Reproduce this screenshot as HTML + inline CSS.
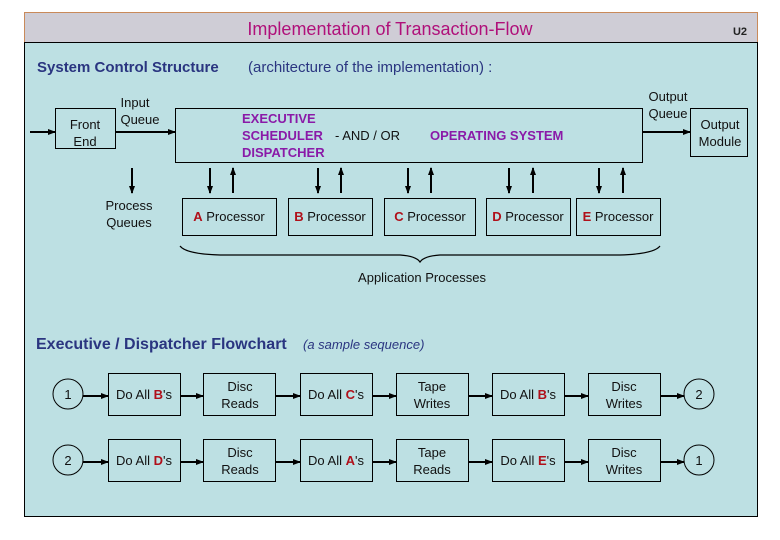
<!DOCTYPE html>
<html><head><meta charset="utf-8"><style>
html,body{margin:0;padding:0;background:#fff;width:780px;height:540px;overflow:hidden}
svg{display:block}
text{font-family:"Liberation Sans",sans-serif}
</style></head><body>
<svg width="780" height="540" viewBox="0 0 780 540" xmlns="http://www.w3.org/2000/svg">
<defs>
<marker id="ah" markerWidth="8" markerHeight="8" refX="7" refY="4" orient="auto" markerUnits="userSpaceOnUse">
<path d="M0,1 L8,4 L0,7 z" fill="#000"/></marker>
</defs>
<rect x="24.5" y="12.5" width="733" height="504" fill="#bde0e3" stroke="#000"/>
<rect x="24.5" y="12.5" width="733" height="30" fill="#cfcdd6" stroke="#c98a5a"/>
<line x1="24" y1="42.5" x2="758" y2="42.5" stroke="#000"/>
<text x="390" y="35" text-anchor="middle" font-size="18" fill="#b0107a">Implementation of Transaction-Flow</text>
<text x="740" y="35" text-anchor="middle" font-size="11" font-weight="bold" fill="#222">U2</text>
<text x="37" y="72" font-size="15" fill="#2a3580" font-weight="bold">System  Control Structure</text>
<text x="248" y="72" font-size="15" fill="#2a3580">(architecture of the implementation) :</text>

<g stroke="#000" fill="none" stroke-width="1">
<rect x="55.5" y="108.5" width="60" height="40"/>
<rect x="175.5" y="108.5" width="467" height="54"/>
<rect x="690.5" y="108.5" width="57" height="48"/>
<rect x="182.5" y="198.5" width="94" height="37"/>
<rect x="288.5" y="198.5" width="84" height="37"/>
<rect x="384.5" y="198.5" width="91" height="37"/>
<rect x="486.5" y="198.5" width="84" height="37"/>
<rect x="576.5" y="198.5" width="84" height="37"/>
</g>
<g stroke="#000" stroke-width="2" marker-end="url(#ah)">
<line x1="30" y1="132" x2="55" y2="132"/>
<line x1="115" y1="132" x2="175" y2="132"/>
<line x1="642" y1="132" x2="690" y2="132"/>
<line x1="132" y1="168" x2="132" y2="193"/>
<line x1="210" y1="168" x2="210" y2="193"/><line x1="233" y1="193" x2="233" y2="168"/>
<line x1="318" y1="168" x2="318" y2="193"/><line x1="341" y1="193" x2="341" y2="168"/>
<line x1="408" y1="168" x2="408" y2="193"/><line x1="431" y1="193" x2="431" y2="168"/>
<line x1="509" y1="168" x2="509" y2="193"/><line x1="533" y1="193" x2="533" y2="168"/>
<line x1="599" y1="168" x2="599" y2="193"/><line x1="623" y1="193" x2="623" y2="168"/>
</g>
<g font-size="13" fill="#111">
<text x="85" y="129" text-anchor="middle">Front</text><text x="85" y="146" text-anchor="middle">End</text>
<text x="135" y="107" text-anchor="middle">Input</text><text x="140" y="124" text-anchor="middle">Queue</text>
<text x="668" y="101" text-anchor="middle">Output</text><text x="668" y="118" text-anchor="middle">Queue</text>
<text x="720" y="129" text-anchor="middle">Output</text><text x="720" y="146" text-anchor="middle">Module</text>
<text x="129" y="210" text-anchor="middle">Process</text><text x="129" y="227" text-anchor="middle">Queues</text>
<text x="242" y="123" font-weight="bold" fill="#8a1aa8">EXECUTIVE</text>
<text x="242" y="140" font-weight="bold" fill="#8a1aa8">SCHEDULER</text>
<text x="335" y="140">-   AND / OR</text>
<text x="430" y="140" font-weight="bold" fill="#8a1aa8">OPERATING SYSTEM</text>
<text x="242" y="157" font-weight="bold" fill="#8a1aa8">DISPATCHER</text>
<text x="229" y="221" text-anchor="middle"><tspan font-weight="bold" fill="#b0101a">A</tspan> Processor</text>
<text x="330" y="221" text-anchor="middle"><tspan font-weight="bold" fill="#b0101a">B</tspan> Processor</text>
<text x="430" y="221" text-anchor="middle"><tspan font-weight="bold" fill="#b0101a">C</tspan> Processor</text>
<text x="528" y="221" text-anchor="middle"><tspan font-weight="bold" fill="#b0101a">D</tspan> Processor</text>
<text x="618" y="221" text-anchor="middle"><tspan font-weight="bold" fill="#b0101a">E</tspan> Processor</text>
<text x="422" y="282" text-anchor="middle">Application Processes</text>
</g>
<path d="M180,246 Q186,254 220,255 L400,255 Q416,256 420,262 Q424,256 440,255 L620,255 Q654,254 660,246" fill="none" stroke="#000" stroke-width="1.2"/>
<text x="36" y="349" font-size="16" font-weight="bold" fill="#2a3580">Executive / Dispatcher Flowchart</text>
<text x="303" y="349" font-size="13" font-style="italic" fill="#2a3580">(a sample sequence)</text>

<g font-size="13" fill="#111">
<g stroke="#000" fill="none">
<circle cx="68" cy="394" r="15"/><circle cx="68" cy="460" r="15"/>
<circle cx="699" cy="394" r="15"/><circle cx="699" cy="460" r="15"/>
<rect x="108.5" y="373.5" width="72" height="42"/><rect x="203.5" y="373.5" width="72" height="42"/>
<rect x="300.5" y="373.5" width="72" height="42"/><rect x="396.5" y="373.5" width="72" height="42"/>
<rect x="492.5" y="373.5" width="72" height="42"/><rect x="588.5" y="373.5" width="72" height="42"/>
<rect x="108.5" y="439.5" width="72" height="42"/><rect x="203.5" y="439.5" width="72" height="42"/>
<rect x="300.5" y="439.5" width="72" height="42"/><rect x="396.5" y="439.5" width="72" height="42"/>
<rect x="492.5" y="439.5" width="72" height="42"/><rect x="588.5" y="439.5" width="72" height="42"/>
</g>
<g stroke="#000" stroke-width="2" marker-end="url(#ah)">
<line x1="83" y1="396" x2="108" y2="396"/><line x1="181" y1="396" x2="203" y2="396"/>
<line x1="276" y1="396" x2="300" y2="396"/><line x1="373" y1="396" x2="396" y2="396"/>
<line x1="469" y1="396" x2="492" y2="396"/><line x1="565" y1="396" x2="588" y2="396"/>
<line x1="661" y1="396" x2="684" y2="396"/>
<line x1="83" y1="462" x2="108" y2="462"/><line x1="181" y1="462" x2="203" y2="462"/>
<line x1="276" y1="462" x2="300" y2="462"/><line x1="373" y1="462" x2="396" y2="462"/>
<line x1="469" y1="462" x2="492" y2="462"/><line x1="565" y1="462" x2="588" y2="462"/>
<line x1="661" y1="462" x2="684" y2="462"/>
</g>
<text x="68" y="399" text-anchor="middle">1</text><text x="68" y="465" text-anchor="middle">2</text>
<text x="699" y="399" text-anchor="middle">2</text><text x="699" y="465" text-anchor="middle">1</text>
<text x="144" y="399" text-anchor="middle">Do All <tspan font-weight="bold" fill="#b0101a">B</tspan>'s</text>
<text x="240" y="391" text-anchor="middle">Disc</text><text x="240" y="408" text-anchor="middle">Reads</text>
<text x="336" y="399" text-anchor="middle">Do All <tspan font-weight="bold" fill="#b0101a">C</tspan>'s</text>
<text x="432" y="391" text-anchor="middle">Tape</text><text x="432" y="408" text-anchor="middle">Writes</text>
<text x="528" y="399" text-anchor="middle">Do All <tspan font-weight="bold" fill="#b0101a">B</tspan>'s</text>
<text x="624" y="391" text-anchor="middle">Disc</text><text x="624" y="408" text-anchor="middle">Writes</text>
<text x="144" y="465" text-anchor="middle">Do All <tspan font-weight="bold" fill="#b0101a">D</tspan>'s</text>
<text x="240" y="457" text-anchor="middle">Disc</text><text x="240" y="474" text-anchor="middle">Reads</text>
<text x="336" y="465" text-anchor="middle">Do All <tspan font-weight="bold" fill="#b0101a">A</tspan>'s</text>
<text x="432" y="457" text-anchor="middle">Tape</text><text x="432" y="474" text-anchor="middle">Reads</text>
<text x="528" y="465" text-anchor="middle">Do All <tspan font-weight="bold" fill="#b0101a">E</tspan>'s</text>
<text x="624" y="457" text-anchor="middle">Disc</text><text x="624" y="474" text-anchor="middle">Writes</text>
</g>
</svg>
</body></html>
